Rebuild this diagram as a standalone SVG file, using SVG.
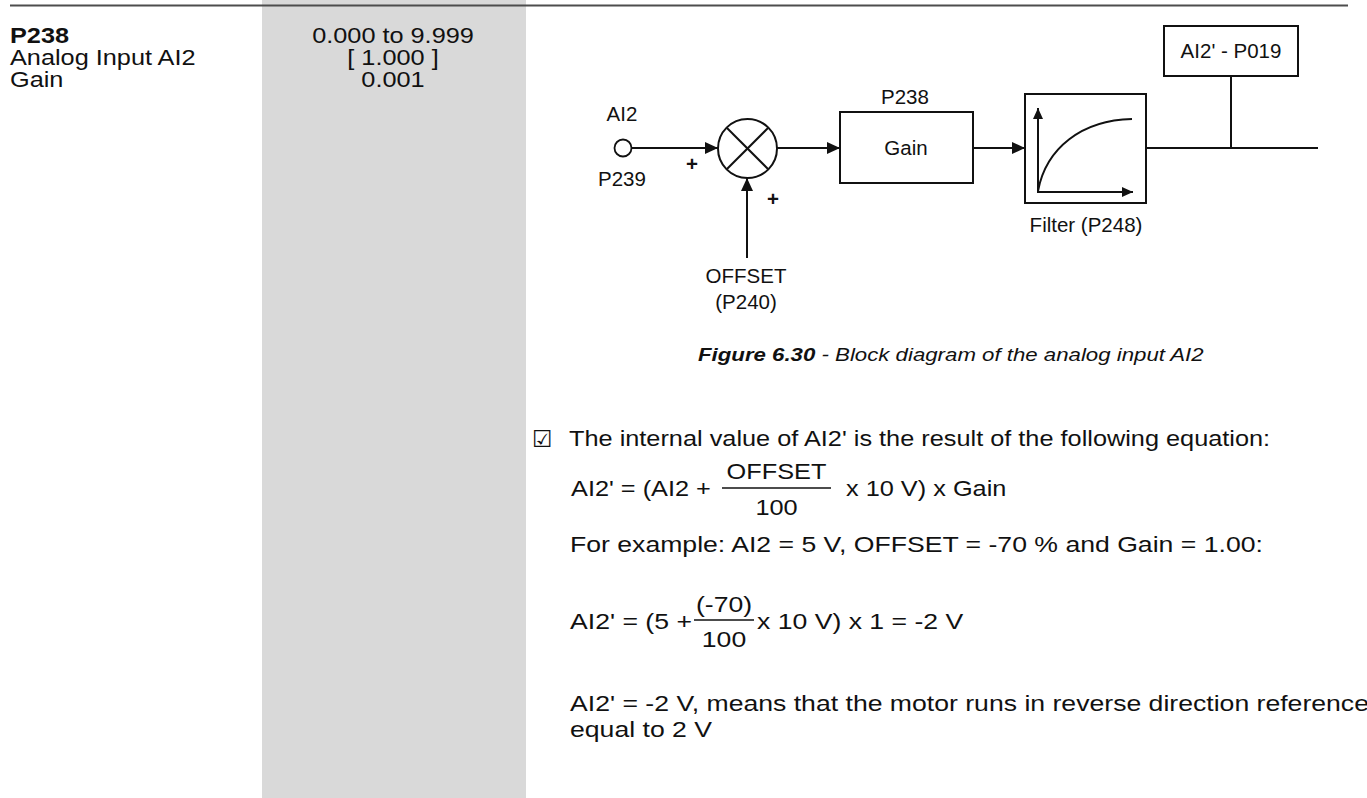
<svg xmlns="http://www.w3.org/2000/svg" width="1367" height="798" viewBox="0 0 1367 798">
<style>
  text { font-family: "Liberation Sans", Arial, sans-serif; fill: #111; }
  .doc { font-size: 22px; }
  .lbl { font-size: 20.5px; }
  .b { font-weight: bold; }
  .mid { text-anchor: middle; }
  .cap { font-size: 17.5px; font-style: italic; }
  .ln { stroke: #111; stroke-width: 2; fill: none; }
  .box { stroke: #111; stroke-width: 2; fill: #fff; }
</style>
<defs>
  <marker id="arr" markerWidth="14" markerHeight="12" refX="13" refY="6" orient="auto" markerUnits="userSpaceOnUse">
    <path d="M0,0 L13,6 L0,12 Z" fill="#111"/>
  </marker>
  <marker id="arrs" markerWidth="12" markerHeight="10" refX="11" refY="5" orient="auto" markerUnits="userSpaceOnUse">
    <path d="M0,0 L11,5 L0,10 Z" fill="#111"/>
  </marker>
</defs>

<rect x="262" y="0" width="264" height="798" fill="#d9d9d9"/>
<line x1="10" y1="5.5" x2="1348" y2="5.5" stroke="#4d4d4d" stroke-width="2"/>

<g id="param-text">
  <text class="doc b" transform="matrix(1.15 0 0 1 10 43)">P238</text>
  <text class="doc" transform="matrix(1.15 0 0 1 10 65)">Analog Input AI2</text>
  <text class="doc" transform="matrix(1.15 0 0 1 10 87)">Gain</text>
  <text class="doc mid" transform="matrix(1.15 0 0 1 393 43)">0.000 to 9.999</text>
  <text class="doc mid" transform="matrix(1.15 0 0 1 393 65)">[ 1.000 ]</text>
  <text class="doc mid" transform="matrix(1.15 0 0 1 393 87)">0.001</text>
</g>

<g id="connectors">
  <line class="ln" x1="632" y1="148" x2="718" y2="148" marker-end="url(#arr)"/>
  <line class="ln" x1="747" y1="258" x2="747" y2="178" marker-end="url(#arr)"/>
  <line class="ln" x1="777" y1="148" x2="840" y2="148" marker-end="url(#arr)"/>
  <line class="ln" x1="973" y1="148" x2="1025" y2="148" marker-end="url(#arr)"/>
  <line class="ln" x1="1146" y1="148" x2="1318" y2="148"/>
  <line class="ln" x1="1231" y1="148" x2="1231" y2="76"/>
</g>

<g id="input-ai2">
  <circle cx="623" cy="148" r="8.5" fill="#fff" stroke="#111" stroke-width="1.8"/>
  <text class="lbl mid" x="622" y="121">AI2</text>
  <text class="lbl mid" x="622" y="186">P239</text>
  <text class="lbl b mid" x="692" y="171">+</text>
</g>

<g id="summer">
  <circle cx="747.5" cy="148.5" r="29.5" fill="#fff" stroke="#111" stroke-width="2"/>
  <line class="ln" x1="727" y1="128" x2="768" y2="169"/>
  <line class="ln" x1="768" y1="128" x2="727" y2="169"/>
  <text class="lbl b mid" x="773" y="206">+</text>
</g>

<g id="offset">
  <text class="lbl mid" x="746" y="283">OFFSET</text>
  <text class="lbl mid" x="746" y="309">(P240)</text>
</g>

<g id="gain-block">
  <rect class="box" x="840" y="112" width="133" height="71"/>
  <text class="lbl mid" x="905" y="104">P238</text>
  <text class="lbl mid" x="906" y="155">Gain</text>
</g>

<g id="filter-block">
  <rect class="box" x="1025" y="94" width="121" height="109"/>
  <line class="ln" x1="1038" y1="192" x2="1038" y2="108" marker-end="url(#arrs)"/>
  <line class="ln" x1="1037" y1="192" x2="1133" y2="192" marker-end="url(#arrs)"/>
  <path class="ln" d="M1038,191 C1046,148 1082,120 1132,119"/>
  <text class="lbl mid" x="1086" y="232">Filter (P248)</text>
</g>

<g id="output-ai2p">
  <rect class="box" x="1164" y="26" width="134" height="50"/>
  <text class="lbl mid" x="1231" y="58">AI2' - P019</text>
</g>

<g id="caption">
  <text class="cap" transform="matrix(1.27 0 0 1 698 361)"><tspan font-weight="bold">Figure 6.30</tspan> - Block diagram of the analog input AI2</text>
</g>

<g id="body">
  <text x="532" y="447" style="font-family:'DejaVu Sans',sans-serif;font-size:23px;font-weight:bold">☑</text>
  <text class="doc" transform="matrix(1.151 0 0 1 569 446)">The internal value of AI2' is the result of the following equation:</text>

  <text class="doc" transform="matrix(1.151 0 0 1 571 496)">AI2' = (AI2 +</text>
  <text class="doc mid" transform="matrix(1.151 0 0 1 776.5 479)">OFFSET</text>
  <line x1="722" y1="488" x2="831" y2="488" stroke="#111" stroke-width="1.5"/>
  <text class="doc mid" transform="matrix(1.151 0 0 1 776.5 515)">100</text>
  <text class="doc" transform="matrix(1.151 0 0 1 846 496)">x 10 V) x Gain</text>

  <text class="doc" transform="matrix(1.21 0 0 1 570 552)">For example: AI2 = 5 V, OFFSET = -70 % and  Gain = 1.00:</text>

  <text class="doc" transform="matrix(1.21 0 0 1 570 629)">AI2' = (5 +</text>
  <text class="doc mid" transform="matrix(1.21 0 0 1 724 612)">(-70)</text>
  <line x1="694" y1="620" x2="754" y2="620" stroke="#111" stroke-width="1.5"/>
  <text class="doc mid" transform="matrix(1.21 0 0 1 724 647)">100</text>
  <text class="doc" transform="matrix(1.21 0 0 1 757 629)">x 10 V) x 1 = -2 V</text>

  <text class="doc" transform="matrix(1.21 0 0 1 570 711)">AI2' = -2 V, means that the motor runs in reverse direction reference</text>
  <text class="doc" transform="matrix(1.21 0 0 1 570 737)">equal to 2 V</text>
</g>
</svg>
